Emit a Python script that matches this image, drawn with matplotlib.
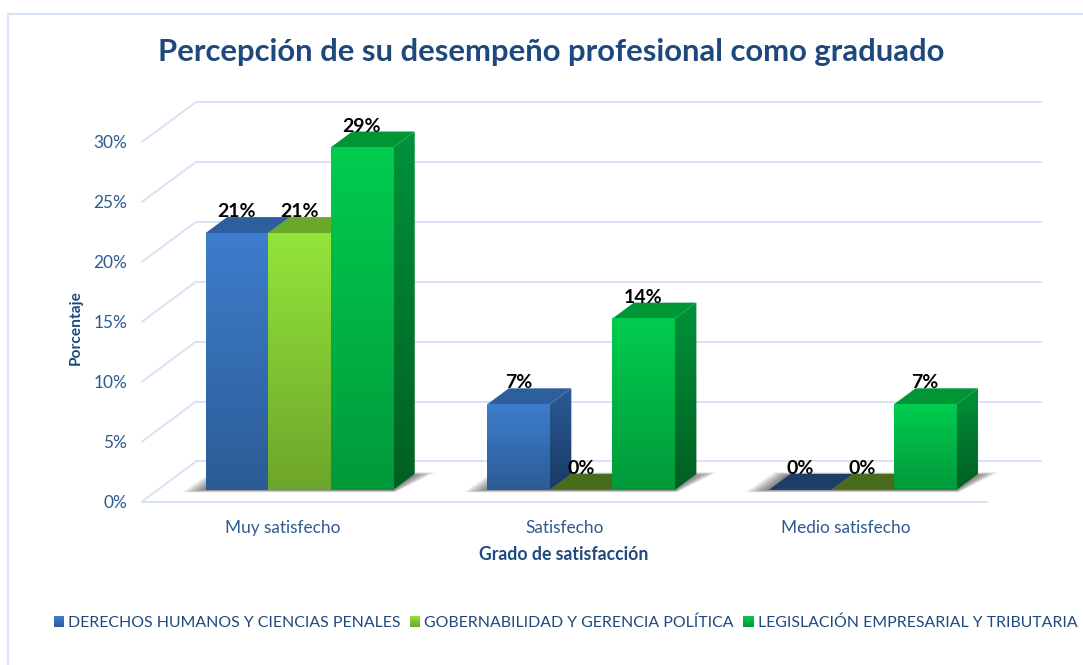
import numpy as np
import matplotlib
matplotlib.use('Agg')
import matplotlib.pyplot as plt
from matplotlib.colors import LinearSegmentedColormap
from matplotlib.legend_handler import HandlerBase
from matplotlib.lines import Line2D
from matplotlib.patches import Patch, Polygon, Rectangle

plt.rcParams['font.family'] = ['Lato', 'DejaVu Sans']

'''
Data read off the picture
'''
categories = ['Muy satisfecho', 'Satisfecho', 'Medio satisfecho']
series_names = ['DERECHOS HUMANOS Y CIENCIAS PENALES',
                'GOBERNABILIDAD Y GERENCIA POLÍTICA',
                'LEGISLACIÓN EMPRESARIAL Y TRIBUTARIA']
derechos = [21.43, 7.14, 0]
gobernabilidad = [21.43, 0, 0]
legislacion = [28.57, 14.29, 7.14]
y_ticks = [0, 5, 10, 15, 20, 25, 30]

'''
Styles
'''
W, H = 1083, 665
NAVY = '#1f497d'
TICK = '#2f5a8f'
GRID = '#d6e3f4'
front_colors = [('#3d7dcc', '#2c5c96'), ('#92e43a', '#6ea62a'), ('#00cc4e', '#009a3a')]
side_colors = [('#2a5a96', '#1a3a66'), ('#6aa82a', '#456a1a'), ('#00923a', '#005f22')]
top_colors = ['#2d5f9e', '#6aa82a', '#009535']
flat_colors = ['#1d3d68', '#4a6b1c', '#006d2a']
BAR_W = 0.222
BAR_SHIFT = 0.003
DX, DY = 0.1917, 3.34   # shift of the floor depth, in category and percent units
BAR_D0, BAR_D1 = 0.29, 0.69


def project(x, v, d):
    return (x + d*DX, v + d*DY)


def gradient(ax, x0, x1, v0, v1, colors, zorder, clip=None):
    cmap = LinearSegmentedColormap.from_list('g', colors)
    im = ax.imshow(np.linspace(0, 1, 64)[:, None], cmap=cmap, aspect='auto', origin='upper',
                   extent=(x0, x1, v0, v1), interpolation='bilinear', zorder=zorder, clip_on=True)
    if clip is not None:
        ax.add_patch(clip)
        im.set_clip_path(clip)
    # images fall back on the axes box when the clip box is None
    im.set_clip_box(ax.figure.bbox)
    return im


def draw_bar(ax, x, value, j, zorder):
    x0, x1 = x - BAR_W/2, x + BAR_W/2
    if value == 0:
        pts = [project(x0, 0, BAR_D0), project(x1, 0, BAR_D0), project(x1, 0, BAR_D1), project(x0, 0, BAR_D1)]
        ax.add_patch(Polygon(pts, fc=flat_colors[j], ec='none', zorder=zorder, clip_on=False))
        return
    # side face
    pts = [project(x1, 0, BAR_D0), project(x1, 0, BAR_D1), project(x1, value, BAR_D1), project(x1, value, BAR_D0)]
    clip = Polygon(pts, fc='none', ec='none', zorder=zorder)
    gradient(ax, pts[0][0], pts[1][0], pts[0][1], pts[2][1], side_colors[j], zorder, clip)
    # top face
    pts = [project(x0, value, BAR_D0), project(x1, value, BAR_D0), project(x1, value, BAR_D1), project(x0, value, BAR_D1)]
    ax.add_patch(Polygon(pts, fc=top_colors[j], ec='none', zorder=zorder, clip_on=False))
    # front face
    fx0, fv0 = project(x0, 0, BAR_D0)
    fx1, fv1 = project(x1, value, BAR_D0)
    gradient(ax, fx0, fx1, fv0, fv1, front_colors[j], zorder + 0.1)


def draw_shadow(ax, x0, x1):
    for k in range(1, 11):
        e = 0.0065*k
        pts = [project(x0 - e*1.1, 0, BAR_D0 - 0.006*k),
               project(x1 + e*0.3, 0, BAR_D0 - 0.006*k),
               project(x1 + e, 0, BAR_D1 + 0.008*k - 0.04),
               project(x0 - e, 0, BAR_D1 + 0.008*k - 0.04)]
        ax.add_patch(Polygon(pts, fc='black', ec='none', alpha=0.06, zorder=2, clip_on=False))


class GradientSquare(HandlerBase):
    def create_artists(self, legend, orig_handle, xdescent, ydescent, width, height, fontsize, trans):
        top, bottom = orig_handle.colors
        cmap = LinearSegmentedColormap.from_list('g', [top, bottom])
        n = 10
        return [Rectangle((-xdescent, -ydescent + height*(n - 1 - i)/n), width, height/n + 0.2,
                          fc=cmap(i/(n - 1)), ec='none', transform=trans) for i in range(n)]


class SquareHandle(Patch):
    def __init__(self, colors, label):
        super().__init__(label=label)
        self.colors = colors


fig = plt.figure(figsize=(W/100, H/100), dpi=100)
ax = fig.add_axes([142/W, 1 - 501.5/H, 845/W, 359.5/H])

# chart border
for xs, ys in [((8, 8), (14, H)), ((8, W), (14, 14))]:
    fig.add_artist(Line2D([x/W for x in xs], [1 - y/H for y in ys], color=GRID, lw=1.5))

# floor and walls
floor_left = -0.5
floor_right = 2.5
for v in y_ticks:
    ax.plot(*zip(project(floor_left, v, 0), project(floor_left, v, 1)), color=GRID, lw=1.4, clip_on=False, zorder=1)
    ax.plot(*zip(project(floor_left, v, 1), project(floor_right, v, 1)), color=GRID, lw=1.4, clip_on=False, zorder=1)
ax.plot(*zip(project(floor_left, 0, 0), project(floor_right, 0, 0)), color=GRID, lw=1.4, clip_on=False, zorder=1)

series = [derechos, gobernabilidad, legislacion]
for i in range(len(categories)):
    draw_shadow(ax, i - 1.5*BAR_W + BAR_SHIFT, i + 1.5*BAR_W + BAR_SHIFT)
    for j, values in enumerate(series):
        x = i + (j - 1)*BAR_W + BAR_SHIFT
        draw_bar(ax, x, values[i], j, 3 + j)
        lx, _ = project(x, values[i], BAR_D0)
        _, lv = project(x, values[i], BAR_D1)
        ax.text(lx, lv - 0.25, f'{values[i]:.0f}%', ha='center', va='bottom', fontsize=14,
                fontweight='bold', color='black', zorder=10, clip_on=False)

ax.set_xlim(-0.5, 2.5)
ax.set_ylim(0, 30)
for spine in ax.spines.values():
    spine.set_visible(False)
ax.patch.set_visible(False)
ax.set_xticks(range(len(categories)), categories)
ax.set_yticks(y_ticks, [f'{v}%' for v in y_ticks])
ax.tick_params(axis='both', length=0, labelcolor=TICK, labelsize=12.4)
ax.tick_params(axis='x', pad=13.5)
ax.tick_params(axis='y', pad=10.5)
ax.set_xlabel('Grado de satisfacción', fontsize=12.7, fontweight='bold', color=NAVY)
ax.xaxis.set_label_coords((564 - 142)/845, (501.5 - 555)/359.5, transform=ax.transAxes)
ax.xaxis.label.set_va('center')
ax.set_ylabel('Porcentaje', fontsize=11.2, fontweight='bold', color=NAVY)
ax.yaxis.set_label_coords((76 - 142)/845, (501.5 - 328)/359.5, transform=ax.transAxes)
ax.yaxis.label.set_va('center')

fig.text(551/W, 1 - 52/H, 'Percepción de su desempeño profesional como graduado', ha='center', va='center',
         fontsize=22.3, fontweight='bold', color=NAVY)

handles = [SquareHandle((front_colors[j][0], front_colors[j][1]), series_names[j]) for j in range(3)]
fig.legend(handles=handles, loc='center left', bbox_to_anchor=(41/W, 1 - 623/H), ncol=3, frameon=False,
           fontsize=11.45, labelcolor=NAVY, handlelength=0.66, handleheight=0.66, handletextpad=0.25,
           columnspacing=0.58, handler_map={SquareHandle: GradientSquare()}, borderpad=0.3)

fig.savefig('out.png', dpi=100)
